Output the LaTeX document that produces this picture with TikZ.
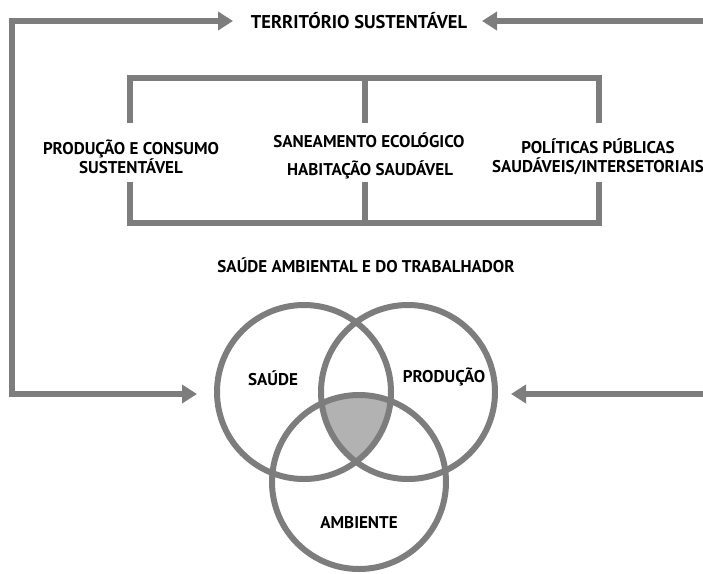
\documentclass[tikz,border=0pt]{standalone}
\usepackage{fontspec}
\setmainfont{PT Sans}[BoldFont={PT Sans Bold}]
\usetikzlibrary{arrows.meta}
\definecolor{lg}{RGB}{125,125,125}
\definecolor{sh}{RGB}{178,178,178}
\definecolor{tx}{RGB}{0,0,0}
\begin{document}
\begin{tikzpicture}[x=1pt,y=-1pt,
  >={Triangle[length=15pt,width=18pt]},
  line/.style={draw=lg, line width=6pt, line join=miter},
  lbl/.style={font=\bfseries\fontsize{17}{19}\selectfont, text=tx, align=center, inner sep=0pt},
  ring/.style={circle, draw=lg, line width=6pt, minimum size=174pt, inner sep=0pt}]
\useasboundingbox (0,0) rectangle (703,573);
% texts
\node[lbl, font=\bfseries\fontsize{18.5}{20}\selectfont] (terr) at (359,21) {TERRITÓRIO SUSTENTÁVEL};
\node[lbl] (pc) at (131,156.5) {PRODUÇÃO E CONSUMO\\SUSTENTÁVEL};
\node[lbl] (san) at (369,140) {SANEAMENTO ECOLÓGICO};
\node[lbl] (hab) at (370,170) {HABITAÇÃO SAUDÁVEL};
\node[lbl] (pol) at (598,157) {POLÍTICAS PÚBLICAS\\SAUDÁVEIS/INTERSETORIAIS};
\node[lbl] (sat) at (366,265) {SAÚDE AMBIENTAL E DO TRABALHADOR};
% circles
\coordinate (csa) at (304,392);
\coordinate (cpr) at (408,392);
\coordinate (cam) at (359,482);
\begin{scope}
  \clip (csa) circle[radius=87pt];
  \clip (cpr) circle[radius=87pt];
  \fill[sh] (cam) circle[radius=87pt];
\end{scope}
\node[ring] (sa) at (csa) {};
\node[ring] (pr) at (cpr) {};
\node[ring] (am) at (cam) {};
\node[lbl] (lsa) at (273,378) {SAÚDE};
\node[lbl] (lpr) at (444,377) {PRODUÇÃO};
\node[lbl] (lam) at (359,523) {AMBIENTE};
% bracket
\coordinate (b1) at (130,78);
\coordinate (b2) at (365,78);
\coordinate (b3) at (599,78);
\coordinate (b4) at (130,223);
\coordinate (b5) at (365,223);
\coordinate (b6) at (599,223);
\draw[line] (130,123) -- (b1) -- (b3) -- (599,123);
\draw[line] (b2) -- (365,123);
\draw[line] (130,182) -- (b4) -- (b6) -- (599,182);
\draw[line] (b5) -- (365,182);
% feedback arrows
\coordinate (tl) at (12,21);
\coordinate (bl) at (12,394);
\coordinate (lt) at (233,21);
\coordinate (lb) at (197,394);
\draw[line, <->] (lt) -- (tl) -- (bl) -- (lb);
\coordinate (rt0) at (706,21);
\coordinate (rt) at (482,21);
\coordinate (rb0) at (706,394);
\coordinate (rb) at (511,394);
\draw[line, ->] (rt0) -- (rt);
\draw[line, ->] (rb0) -- (rb);
\end{tikzpicture}
\end{document}
